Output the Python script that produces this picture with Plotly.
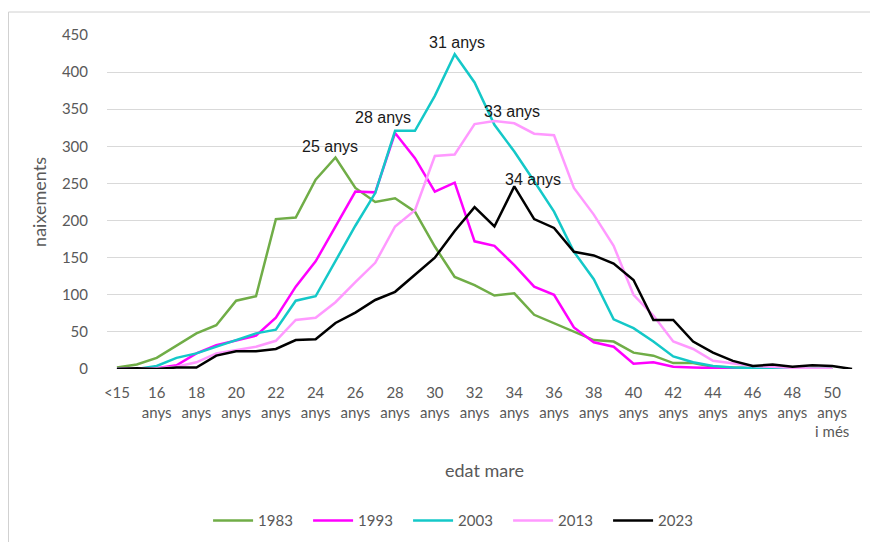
import plotly.graph_objects as go

categories = ["<15", "15 anys", "16 anys", "17 anys", "18 anys", "19 anys", "20 anys", "21 anys",
              "22 anys", "23 anys", "24 anys", "25 anys", "26 anys", "27 anys", "28 anys", "29 anys",
              "30 anys", "31 anys", "32 anys", "33 anys", "34 anys", "35 anys", "36 anys", "37 anys",
              "38 anys", "39 anys", "40 anys", "41 anys", "42 anys", "43 anys", "44 anys", "45 anys",
              "46 anys", "47 anys", "48 anys", "49 anys", "50 anys i més", " "]

tick_labels = ["<15", "16<br>anys", "18<br>anys", "20<br>anys", "22<br>anys", "24<br>anys",
               "26<br>anys", "28<br>anys", "30<br>anys", "32<br>anys", "34<br>anys", "36<br>anys",
               "38<br>anys", "40<br>anys", "42<br>anys", "44<br>anys", "46<br>anys", "48<br>anys",
               "50<br>anys<br>i més"]

years = ["1983", "1993", "2003", "2013", "2023"]
v1983 = [2, 6, 15, 31, 48, 59, 92, 98, 202, 204, 255, 285, 244, 225, 230, 212, 165, 124, 113, 99,
         102, 73, 62, 50, 39, 37, 22, 18, 8, 8, 3, 2, 1, 1, 0, 0, 0]
v1993 = [0, 0, 1, 5, 21, 32, 39, 45, 69, 111, 145, 193, 239, 238, 318, 284, 239, 251, 172, 166,
         140, 111, 100, 56, 36, 30, 7, 9, 3, 2, 1, 1, 0, 0, 0, 0, 0]
v2003 = [0, 0, 4, 15, 21, 30, 39, 48, 53, 92, 98, 145, 193, 237, 321, 321, 368, 424, 386, 329,
         293, 253, 212, 158, 121, 67, 55, 37, 17, 9, 4, 2, 1, 0, 0, 0, 0]
v2013 = [0, 0, 1, 3, 9, 21, 26, 30, 38, 66, 69, 90, 117, 143, 192, 214, 287, 289, 330, 334,
         331, 317, 315, 244, 208, 166, 100, 72, 37, 27, 11, 8, 4, 3, 1, 0, 0]
v2023 = [0, 1, 0, 2, 2, 18, 24, 24, 27, 39, 40, 62, 76, 93, 104, 127, 150, 186, 218, 192,
         246, 202, 190, 158, 153, 142, 120, 66, 66, 37, 22, 11, 4, 6, 3, 5, 4, 0]
series = [v1983, v1993, v2003, v2013, v2023]
colors = ["#70AD47", "#FF00FF", "#14C8C8", "#FF99FF", "#000000"]

# peak label offsets (px)
label_shift = [(-5, 0), (-12, 5), (2, 1), (18, -1), (19, -4)]

fig = go.Figure()
for name, vals, col in zip(years, series, colors):
    fig.add_trace(go.Scatter(x=categories[:len(vals)], y=vals, name=name, mode="lines",
                             line=dict(color=col, width=2.5)))

for vals, (dx, dy) in zip(series, label_shift):
    i = vals.index(max(vals))
    fig.add_annotation(x=categories[i], y=vals[i], text=categories[i], showarrow=False,
                       xshift=dx, yshift=dy, yanchor="bottom",
                       font=dict(family="Liberation Sans, Arial", size=16, color="#1a1a1a"))

axis_font = dict(family="Lato, Open Sans, sans-serif", size=15, color="#595959")
title_font = dict(family="Lato, Open Sans, sans-serif", size=18, color="#595959")

fig.update_layout(
    width=878, height=542,
    margin=dict(l=99, r=24, t=27, b=181, autoexpand=False),
    paper_bgcolor="white", plot_bgcolor="white",
    showlegend=True,
    legend=dict(orientation="h", x=0.465, xanchor="center", y=-0.454, yanchor="middle",
                font=axis_font, itemwidth=40, entrywidth=45, traceorder="normal"),
    xaxis=dict(type="category", categoryorder="array", categoryarray=categories,
               range=[-0.5, len(categories) - 0.5], automargin=False,
               tickvals=categories[0::2], ticktext=tick_labels, tickangle=0,
               tickfont=axis_font, showgrid=False, zeroline=False, showline=False, ticks="",
               ticklabelstandoff=13),
    yaxis=dict(range=[0, 450], tickvals=[0, 50, 100, 150, 200, 250, 300, 350, 400, 450],
               tickfont=axis_font, gridcolor="#D9D9D9", gridwidth=1, zeroline=False,
               showline=False, ticks="", ticklabelstandoff=18, automargin=False,
               title=dict(text="naixements", font=title_font, standoff=10)),
)

fig.add_annotation(xref="paper", yref="paper", x=0.5, y=-0.301, text="edat mare",
                   showarrow=False, font=title_font, xanchor="center", yanchor="middle")

# chart-area border (top and left visible)
fig.add_shape(type="rect", xref="paper", yref="paper",
              x0=-0.1305, x1=1.05, y0=-0.6, y1=1.0688,
              line=dict(color="#D0D0D0", width=1), fillcolor="rgba(0,0,0,0)")

fig.write_html("out.html")
